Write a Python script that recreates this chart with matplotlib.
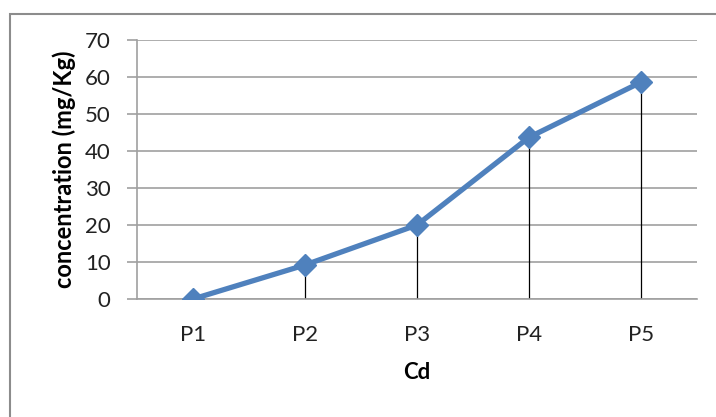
import matplotlib.pyplot as plt
from matplotlib.patches import Rectangle

# Cd concentration at each sampling point
points = ["P1", "P2", "P3", "P4", "P5"]
cd_values = [0, 9.2, 20, 43.7, 58.6]
y_ticks = [0, 10, 20, 30, 40, 50, 60, 70]

plt.rcParams['font.family'] = ['Lato', 'DejaVu Sans']

fig = plt.figure(figsize=(7.16, 4.17), dpi=100)
ax = fig.add_axes([137 / 716, 1 - 299 / 417, 560 / 716, 259 / 417])

x = list(range(len(points)))

# drop lines from each point down to the axis
ax.vlines(x, 0, cd_values, color='black', linewidth=0.9, zorder=2)
ax.plot(x, cd_values, color='#4F81BD', linewidth=3.8, marker='D',
        markersize=11, zorder=3)

ax.set_xlim(-0.5, len(points) - 0.5)
ax.set_ylim(0, 70)
ax.set_yticks(y_ticks)
ax.set_xticks(x)
ax.set_xticklabels(points)
ax.yaxis.grid(True, color='#A0A0A0', linewidth=1.2)
ax.set_axisbelow(True)

for side in ['top', 'right']:
    ax.spines[side].set_visible(False)
ax.spines['left'].set_color('#A0A0A0')
ax.spines['bottom'].set_color('#A0A0A0')
ax.spines['left'].set_linewidth(1.2)
ax.spines['bottom'].set_linewidth(1.2)

ax.tick_params(axis='y', length=7, color='#A0A0A0', width=1.2,
               labelsize=16, pad=12, labelcolor='#222222')
ax.tick_params(axis='x', length=0, labelsize=16, pad=19,
               labelcolor='#222222')

ax.set_xlabel("Cd", fontsize=16, fontweight='bold', labelpad=12)
ax.set_ylabel("concentration (mg/Kg)", fontsize=17, fontweight='bold',
              labelpad=6)

# chart area border
fig.patches.append(Rectangle((10 / 716, -0.1), 1.1, 1 - 14 / 417 + 0.1,
                             transform=fig.transFigure, fill=False,
                             edgecolor='#8C8C8C', linewidth=1.5))

fig.savefig("out.png", dpi=100)
